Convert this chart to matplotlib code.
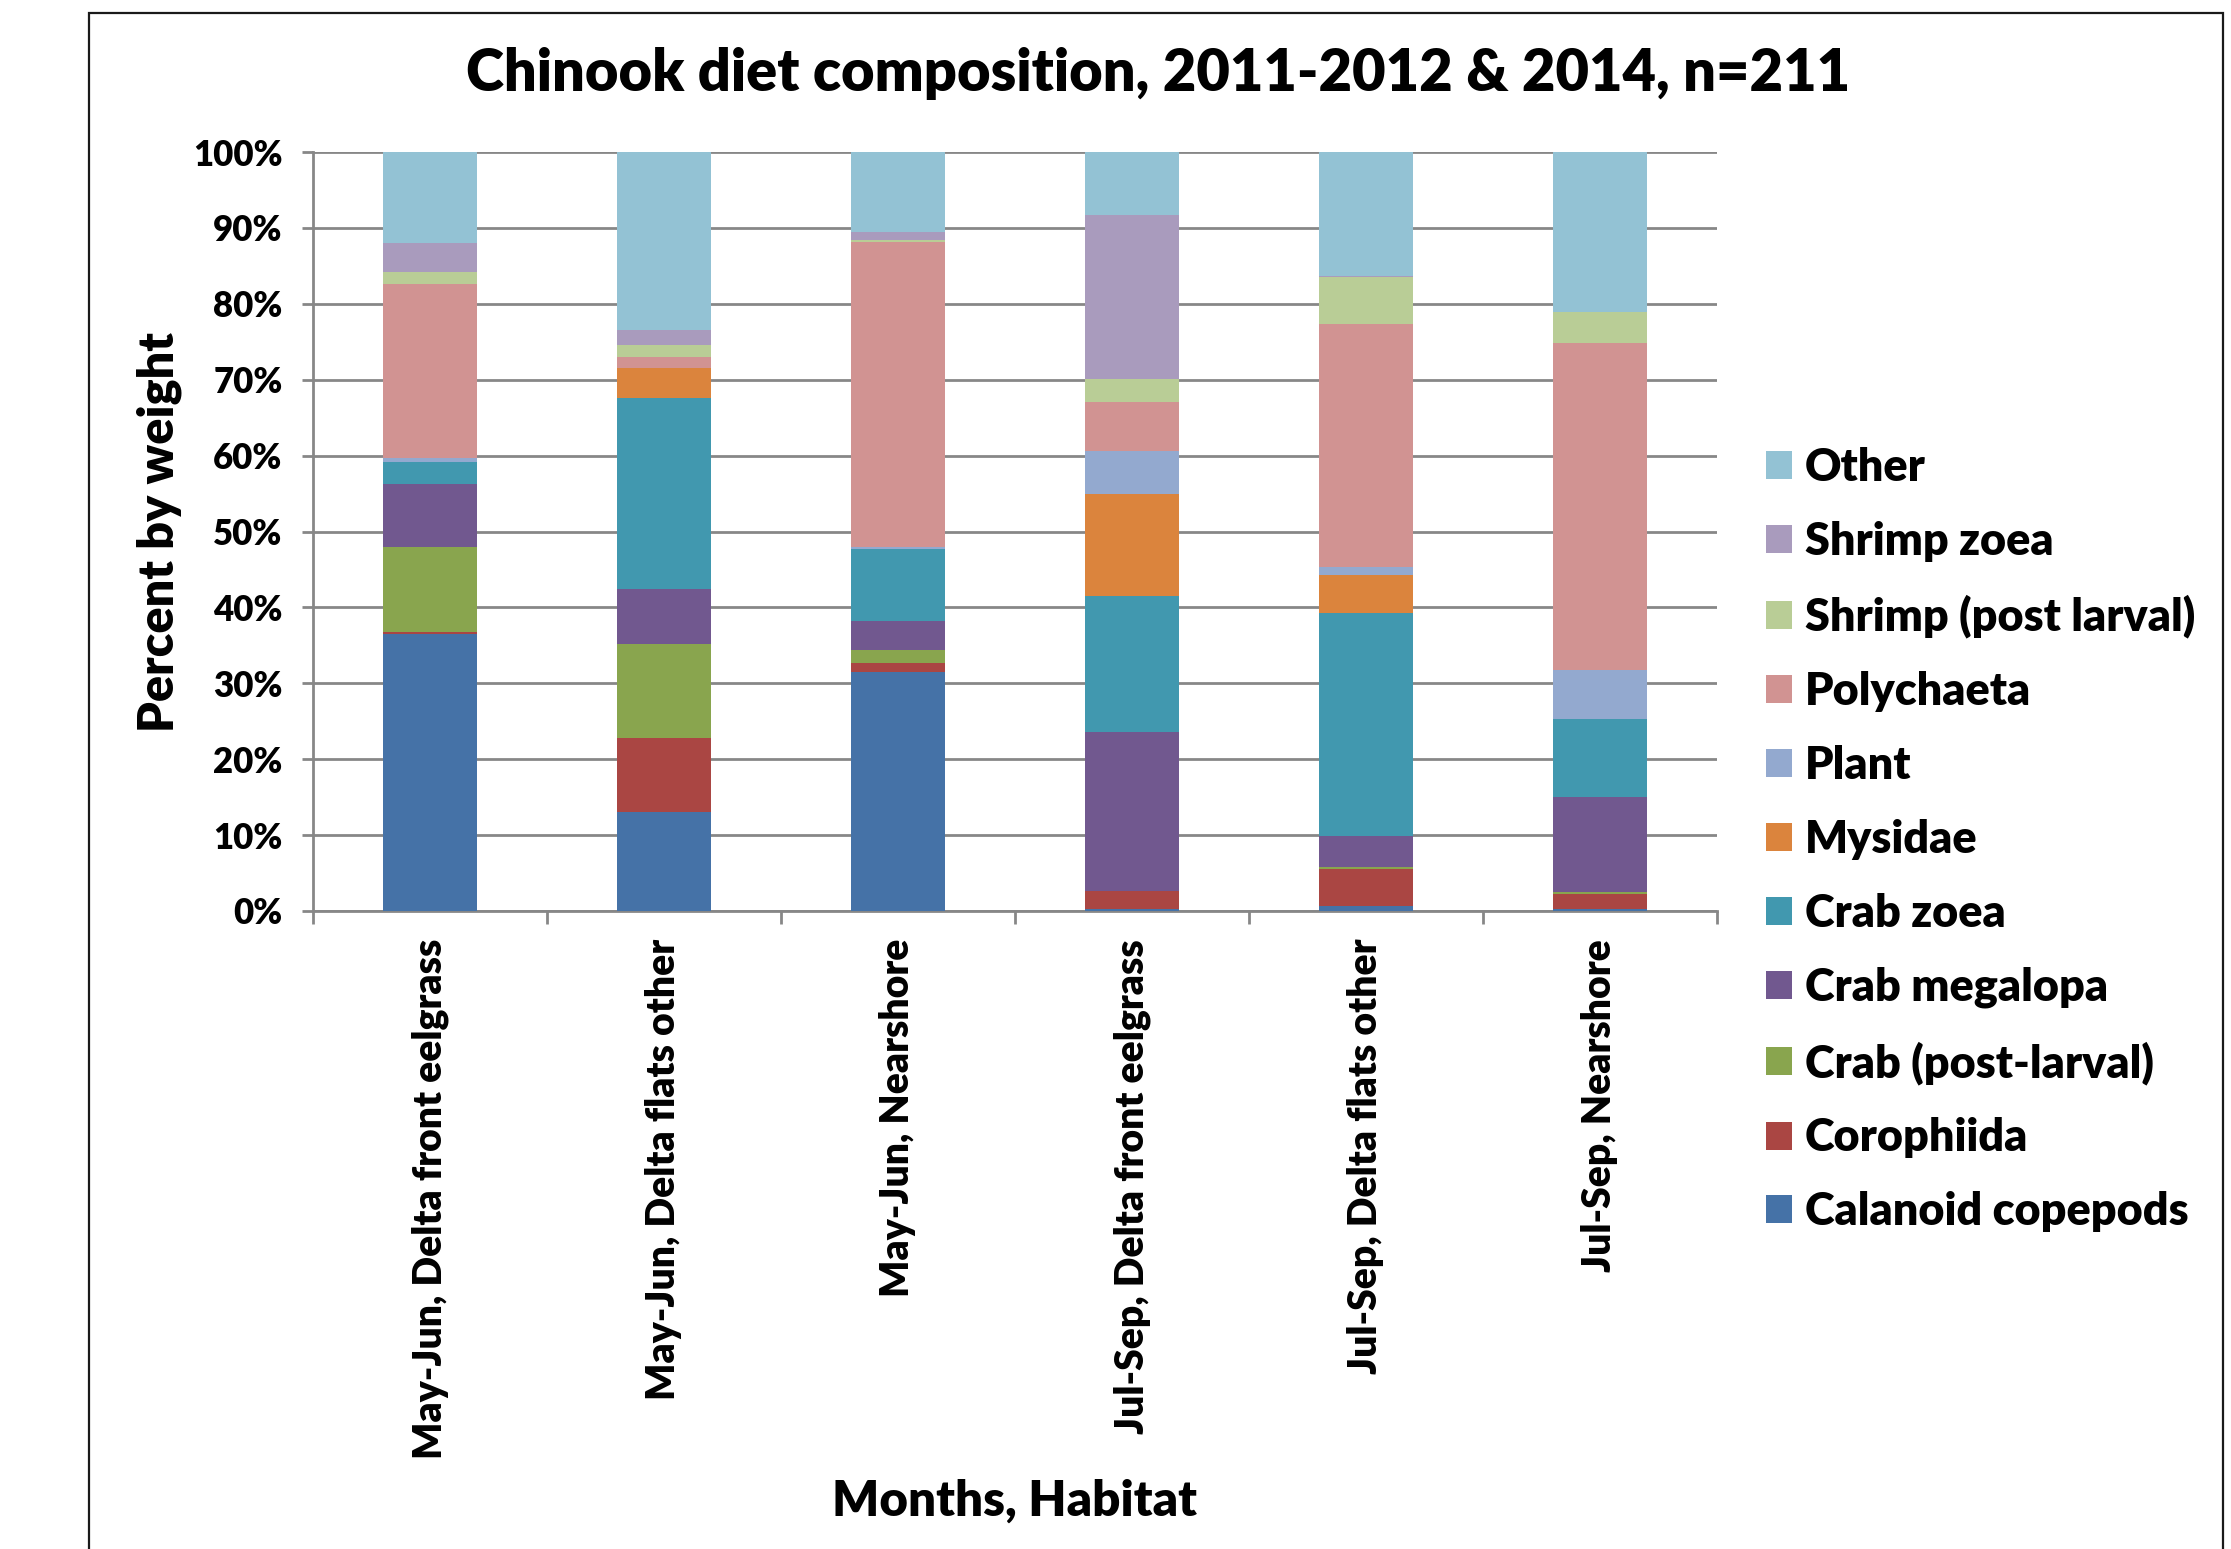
import matplotlib
matplotlib.use("Agg")
import matplotlib.pyplot as plt
import matplotlib.patches as patches
from matplotlib.ticker import PercentFormatter, FixedLocator
import numpy as np

plt.rcParams['font.family'] = ['Lato', 'DejaVu Sans']
W = 'heavy'

habitats = ["May-Jun, Delta front eelgrass", "May-Jun, Delta flats other", "May-Jun, Nearshore",
            "Jul-Sep, Delta front eelgrass", "Jul-Sep, Delta flats other", "Jul-Sep, Nearshore"]

# percent by weight, bottom to top of each stack
calanoid = [36.5, 13.1, 31.5, 0.3, 0.7, 0.3]
corophiida = [0.2, 9.7, 1.2, 2.4, 4.8, 1.9]
crab_post = [11.3, 12.4, 1.7, 0.0, 0.3, 0.3]
crab_megalopa = [8.2, 7.2, 3.8, 20.9, 4.1, 12.5]
crab_zoea = [3.0, 25.2, 9.5, 17.9, 29.4, 10.3]
mysidae = [0.0, 4.0, 0.0, 13.4, 5.0, 0.0]
plant = [0.5, 0.0, 0.3, 5.7, 1.0, 6.4]
polychaeta = [22.9, 1.4, 40.1, 6.5, 32.1, 43.2]
shrimp_post = [1.6, 1.6, 0.3, 3.0, 6.1, 4.0]
shrimp_zoea = [3.8, 1.9, 1.1, 21.6, 0.1, 0.0]
other = [12.0, 23.5, 10.5, 8.3, 16.4, 21.1]

series = [calanoid, corophiida, crab_post, crab_megalopa, crab_zoea, mysidae,
          plant, polychaeta, shrimp_post, shrimp_zoea, other]
names = ["Calanoid copepods", "Corophiida", "Crab (post-larval)", "Crab megalopa", "Crab zoea",
         "Mysidae", "Plant", "Polychaeta", "Shrimp (post larval)", "Shrimp zoea", "Other"]
colors = ["#4572A7", "#AA4643", "#89A54E", "#71588F", "#4198AF", "#DB843D",
          "#93A9CF", "#D19392", "#B9CD96", "#A99BBD", "#93C2D4"]

fig = plt.figure(figsize=(22.31, 15.49), dpi=100)
ax = fig.add_axes([313 / 2231, 1 - 911 / 1549, 1404 / 2231, 759 / 1549])

x = np.arange(len(habitats))
bottom = np.zeros(len(habitats))
bars = []
for vals, name, c in zip(series, names, colors):
    b = ax.bar(x, vals, 0.4, bottom=bottom, color=c, label=name, linewidth=0, zorder=3)
    bars.append(b)
    bottom += np.array(vals)

grid_c = "#878787"
ax.set_xlim(-0.5, len(habitats) - 0.5)
ax.set_ylim(0, 100)
ax.yaxis.set_major_locator(FixedLocator(np.arange(0, 101, 10)))
ax.yaxis.set_major_formatter(PercentFormatter(decimals=0))
ax.grid(True, axis='y', color=grid_c, linewidth=2, zorder=0)
ax.set_axisbelow(True)
for s in ['top', 'right']:
    ax.spines[s].set_visible(False)
for s in ['left', 'bottom']:
    ax.spines[s].set_color(grid_c)
    ax.spines[s].set_linewidth(2)

ax.set_xticks(x)
ax.set_xticklabels(habitats, rotation=90, fontsize=28.2, fontweight=W, va='top')
ax.set_xticks(np.arange(-0.5, len(habitats), 1), minor=True)
ax.tick_params(axis='x', which='major', length=0, pad=20)
ax.tick_params(axis='x', which='minor', length=9.5, width=2, color=grid_c, direction='out')
ax.tick_params(axis='y', length=8, width=2, color=grid_c, pad=14, labelsize=25)
for t in ax.get_yticklabels():
    t.set_fontweight(W)

ax.set_ylabel("Percent by weight", fontsize=35, fontweight=W, va='center')
ax.yaxis.set_label_coords(-0.1097, 0.5)
ax.set_xlabel("Months, Habitat", fontsize=35.5, fontweight=W, va='center')
ax.xaxis.set_label_coords(0.5, -0.777)

fig.text(1158 / 2231, 1 - 74 / 1549, "Chinook diet composition, 2011-2012 & 2014, n=211",
         ha='center', va='center', fontsize=41.6, fontweight=W)

leg = fig.legend(bars[::-1], names[::-1], loc='center left',
                 bbox_to_anchor=(1766 / 2231, 1 - 839.5 / 1549), frameon=False,
                 fontsize=32.4, handlelength=0.58, handleheight=0.58, handletextpad=0.28,
                 labelspacing=0.73, borderpad=0, borderaxespad=0)
for t in leg.get_texts():
    t.set_fontweight(W)

# outer chart frame
fig.patches.append(patches.Rectangle((89 / 2231, -0.05), (2223 - 89) / 2231, 1.05 - 13 / 1549,
                                     transform=fig.transFigure, fill=False,
                                     edgecolor="#1a1a1a", linewidth=1.6, clip_on=False))

fig.savefig("out.png", dpi=100)
